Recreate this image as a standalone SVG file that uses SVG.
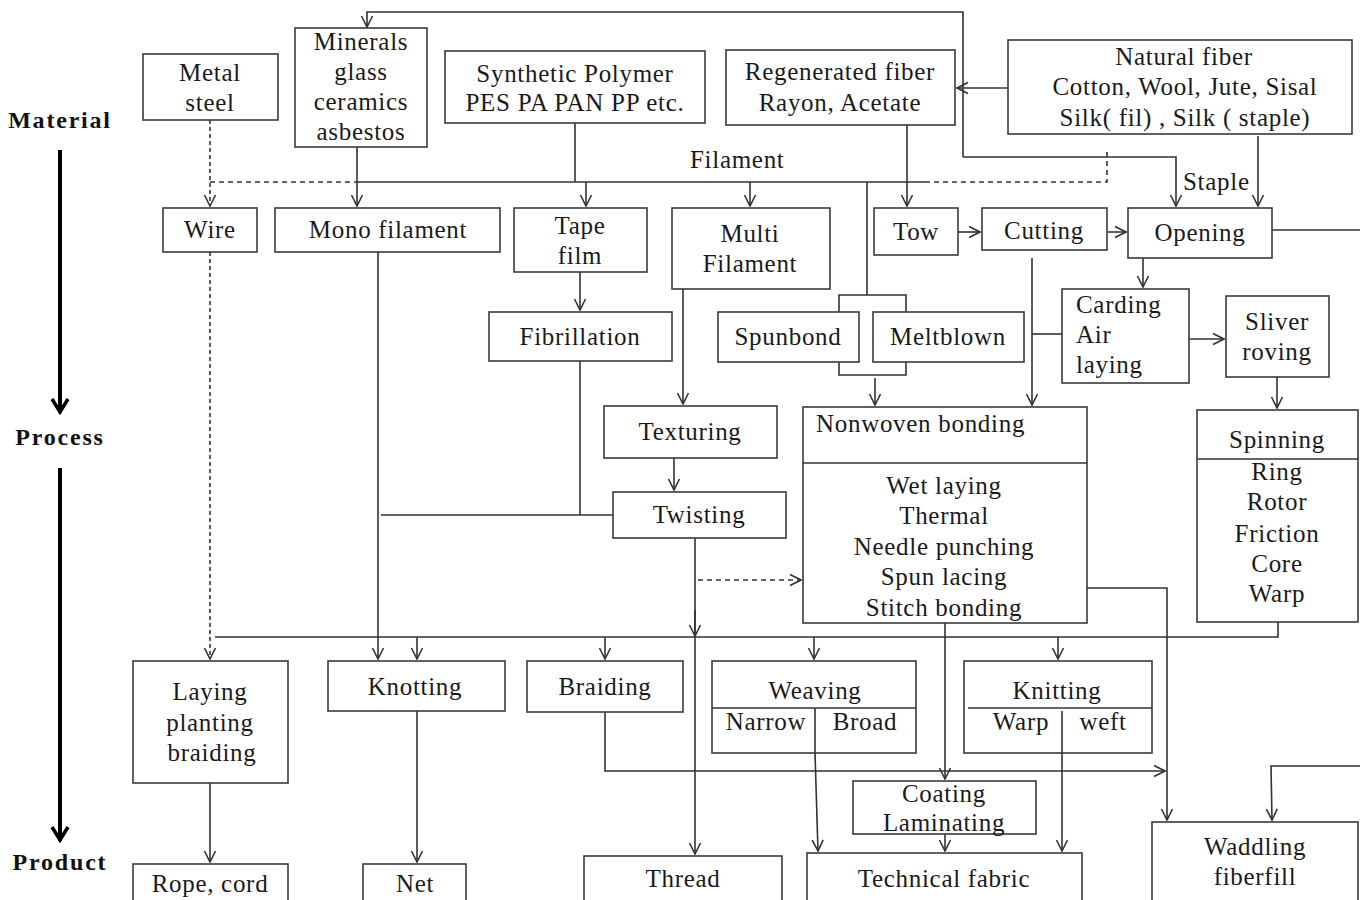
<svg xmlns="http://www.w3.org/2000/svg" width="1360" height="900" viewBox="0 0 1360 900">
<style>
.b{fill:#fff;stroke:#3a3a3a;stroke-width:1.6}
.t{font-family:"Liberation Serif","Times New Roman",serif;font-size:25px;letter-spacing:0.7px;fill:#1a1a1a;text-anchor:middle}
.s{text-anchor:start}
.ax{font-family:"Liberation Serif","Times New Roman",serif;font-size:24px;font-weight:bold;letter-spacing:1.8px;fill:#111;text-anchor:middle}
.c{fill:none;stroke:#333;stroke-width:1.6}
.d{stroke-dasharray:5,4}
.a{marker-end:url(#ar)}
</style>
<defs>
<marker id="ar" viewBox="0 0 14 14" refX="13" refY="7" markerWidth="14" markerHeight="14" orient="auto" markerUnits="userSpaceOnUse"><path d="M2,1.5 L13,7 L2,12.5" fill="none" stroke="#333" stroke-width="1.6"/></marker>
<marker id="big" viewBox="0 0 20 20" refX="18" refY="10" markerWidth="20" markerHeight="20" orient="auto" markerUnits="userSpaceOnUse"><path d="M4,2 L17,10 L4,18" fill="none" stroke="#000" stroke-width="3.5"/></marker>
</defs>
<rect width="1360" height="900" fill="#fff"/>

<g id="axis">
<text class="ax" x="60" y="128">Material</text>
<text class="ax" x="60" y="445">Process</text>
<text class="ax" x="60" y="870">Product</text>
<path d="M60,150 L60,413" fill="none" stroke="#000" stroke-width="4" marker-end="url(#big)"/>
<path d="M60,468 L60,841" fill="none" stroke="#000" stroke-width="4" marker-end="url(#big)"/>
</g>

<g id="connectors">
<path class="c a" d="M963,157 L963,12 L367,12 L367,27"/>
<path class="c a" d="M963,157 L1176,157 L1176,206"/>
<path class="c a" d="M1008,88 L957,88"/>
<path class="c a" d="M1258,136 L1258,206"/>
<path class="c a" d="M907,125 L907,206"/>
<path class="c a" d="M958,232 L980,232"/>
<path class="c a" d="M1107,232 L1126,232"/>
<path class="c" d="M1272,230 L1360,230"/>
<path class="c a" d="M1143,258 L1143,287"/>
<path class="c a" d="M1189,339 L1224,339"/>
<path class="c a" d="M1277,377 L1277,408"/>
<path class="c a" d="M1032,258 L1032,405"/>
<path class="c" d="M1032,334 L1062,334"/>
<path class="c" d="M357,182 L925,182"/>
<path class="c d" d="M210,182 L357,182"/>
<path class="c d" d="M925,182 L1107,182 L1107,152"/>
<path class="c a" d="M210,120 L210,206" stroke-dasharray="4,3"/>
<path class="c a" d="M357,147 L357,206"/>
<path class="c" d="M575,123 L575,182"/>
<path class="c a" d="M586,182 L586,206"/>
<path class="c a" d="M750,182 L750,206"/>
<path class="c" d="M867,182 L867,295"/>
<path class="c" d="M839,312 L839,295 L906,295 L906,312"/>
<path class="c" d="M839,362 L839,375 L906,375 L906,362"/>
<path class="c a" d="M875,378 L875,405"/>
<path class="c a" d="M580,272 L580,310"/>
<path class="c a" d="M683,289 L683,404"/>
<path class="c a" d="M674,458 L674,490"/>
<path class="c" d="M580,361 L580,515"/>
<path class="c" d="M381,515 L613,515"/>
<path class="c a" d="M378,252 L378,659"/>
<path class="c a" d="M210,252 L210,659" stroke-dasharray="4,3"/>
<path class="c d a" d="M698,580 L801,580"/>
<path class="c a" d="M695,538 L695,854"/>
<path class="c a" d="M695,610 L695,636"/>
<path class="c" d="M215,637 L1278,637 L1278,622"/>
<path class="c a" d="M417,637 L417,659"/>
<path class="c a" d="M605,637 L605,659"/>
<path class="c a" d="M814,637 L814,659"/>
<path class="c a" d="M1058,637 L1058,659"/>
<path class="c a" d="M945,623 L945,779"/>
<path class="c a" d="M1087,588 L1167,588 L1167,820"/>
<path class="c a" d="M605,712 L605,771 L1165,771"/>
<path class="c a" d="M815,753 L818,851"/>
<path class="c a" d="M1062,753 L1062,851"/>
<path class="c a" d="M945,834 L945,851"/>
<path class="c a" d="M210,783 L210,862"/>
<path class="c a" d="M417,711 L417,862"/>
<path class="c a" d="M1360,766 L1271,766 L1272,820"/>
<text class="t s" x="690" y="168">Filament</text>
<text class="t s" x="1183" y="190">Staple</text>
</g>

<g id="metal"><rect class="b" x="143" y="54" width="135" height="66"/><text class="t" x="210" y="81">Metal</text><text class="t" x="210" y="111">steel</text></g>
<g id="minerals"><rect class="b" x="295" y="28" width="132" height="119"/><text class="t" x="361" y="50">Minerals</text><text class="t" x="361" y="80">glass</text><text class="t" x="361" y="110">ceramics</text><text class="t" x="361" y="140">asbestos</text></g>
<g id="synthetic"><rect class="b" x="445" y="51" width="260" height="72"/><text class="t" x="575" y="82">Synthetic Polymer</text><text class="t" x="575" y="111">PES PA PAN PP etc.</text></g>
<g id="regenerated"><rect class="b" x="726" y="50" width="229" height="75"/><text class="t" x="840" y="80">Regenerated fiber</text><text class="t" x="840" y="111">Rayon, Acetate</text></g>
<g id="natural"><rect class="b" x="1008" y="40" width="344" height="94"/><text class="t" x="1184" y="65">Natural  fiber</text><text class="t" x="1185" y="95">Cotton, Wool, Jute,  Sisal</text><text class="t" x="1185" y="126">Silk( fil) , Silk ( staple)</text></g>

<g id="wire"><rect class="b" x="163" y="208" width="94" height="44"/><text class="t" x="210" y="238">Wire</text></g>
<g id="mono"><rect class="b" x="275" y="208" width="225" height="44"/><text class="t" x="388" y="238">Mono filament</text></g>
<g id="tape"><rect class="b" x="514" y="208" width="133" height="64"/><text class="t" x="580" y="234">Tape</text><text class="t" x="580" y="264">film</text></g>
<g id="multi"><rect class="b" x="672" y="208" width="158" height="81"/><text class="t" x="750" y="242">Multi</text><text class="t" x="750" y="272">Filament</text></g>
<g id="tow"><rect class="b" x="874" y="208" width="84" height="47"/><text class="t" x="916" y="240">Tow</text></g>
<g id="cutting"><rect class="b" x="982" y="208" width="125" height="42"/><text class="t" x="1044" y="239">Cutting</text></g>
<g id="opening"><rect class="b" x="1128" y="208" width="144" height="50"/><text class="t" x="1200" y="241">Opening</text></g>

<g id="fibrillation"><rect class="b" x="489" y="312" width="183" height="49"/><text class="t" x="580" y="345">Fibrillation</text></g>
<g id="spunbond"><rect class="b" x="718" y="312" width="141" height="50"/><text class="t" x="788" y="345">Spunbond</text></g>
<g id="meltblown"><rect class="b" x="873" y="312" width="151" height="50"/><text class="t" x="948" y="345">Meltblown</text></g>
<g id="carding"><rect class="b" x="1062" y="289" width="127" height="94"/><text class="t s" x="1076" y="313">Carding</text><text class="t s" x="1076" y="343">Air</text><text class="t s" x="1076" y="373">laying</text></g>
<g id="sliver"><rect class="b" x="1226" y="296" width="103" height="81"/><text class="t" x="1277" y="330">Sliver</text><text class="t" x="1277" y="360">roving</text></g>

<g id="texturing"><rect class="b" x="604" y="406" width="173" height="52"/><text class="t" x="690" y="440">Texturing</text></g>
<g id="twisting"><rect class="b" x="613" y="492" width="173" height="46"/><text class="t" x="699" y="523">Twisting</text></g>
<g id="nonwoven"><rect class="b" x="803" y="407" width="284" height="216"/><line class="c" x1="803" y1="463" x2="1087" y2="463"/><text class="t s" x="816" y="432">Nonwoven  bonding</text><text class="t" x="944" y="494">Wet laying</text><text class="t" x="944" y="524">Thermal</text><text class="t" x="944" y="555">Needle  punching</text><text class="t" x="944" y="585">Spun lacing</text><text class="t" x="944" y="616">Stitch bonding</text></g>
<g id="spinning"><rect class="b" x="1197" y="410" width="161" height="212"/><line class="c" x1="1197" y1="459" x2="1358" y2="459"/><text class="t" x="1277" y="448">Spinning</text><text class="t" x="1277" y="480">Ring</text><text class="t" x="1277" y="510">Rotor</text><text class="t" x="1277" y="542">Friction</text><text class="t" x="1277" y="572">Core</text><text class="t" x="1277" y="602">Warp</text></g>

<g id="laying"><rect class="b" x="133" y="661" width="155" height="122"/><text class="t" x="210" y="700">Laying</text><text class="t" x="210" y="731">planting</text><text class="t" x="212" y="761">braiding</text></g>
<g id="knotting"><rect class="b" x="328" y="661" width="177" height="50"/><text class="t" x="415" y="695">Knotting</text></g>
<g id="braiding"><rect class="b" x="527" y="661" width="156" height="51"/><text class="t" x="605" y="695">Braiding</text></g>
<g id="weaving"><rect class="b" x="712" y="661" width="204" height="92"/><line class="c" x1="712" y1="708" x2="916" y2="708"/><line class="c" x1="815" y1="708" x2="815" y2="753"/><text class="t" x="815" y="699">Weaving</text><text class="t" x="766" y="730">Narrow</text><text class="t" x="865" y="730">Broad</text></g>
<g id="knitting"><rect class="b" x="964" y="661" width="188" height="92"/><line class="c" x1="968" y1="708" x2="1152" y2="708"/><line class="c" x1="1062" y1="711" x2="1062" y2="753"/><text class="t" x="1057" y="699">Knitting</text><text class="t" x="1021" y="730">Warp</text><text class="t" x="1103" y="730">weft</text></g>
<g id="coating"><rect class="b" x="853" y="781" width="183" height="53"/><text class="t" x="944" y="802">Coating</text><text class="t" x="944" y="831">Laminating</text></g>

<g id="rope"><rect class="b" x="133" y="864" width="155" height="50"/><text class="t" x="210" y="892">Rope, cord</text></g>
<g id="net"><rect class="b" x="363" y="864" width="103" height="50"/><text class="t" x="415" y="892">Net</text></g>
<g id="thread"><rect class="b" x="584" y="856" width="198" height="60"/><text class="t" x="683" y="887">Thread</text></g>
<g id="technical"><rect class="b" x="807" y="853" width="275" height="60"/><text class="t" x="944" y="887">Technical  fabric</text></g>
<g id="waddling"><rect class="b" x="1152" y="822" width="206" height="90"/><text class="t" x="1255" y="855">Waddling</text><text class="t" x="1255" y="885">fiberfill</text></g>
</svg>
